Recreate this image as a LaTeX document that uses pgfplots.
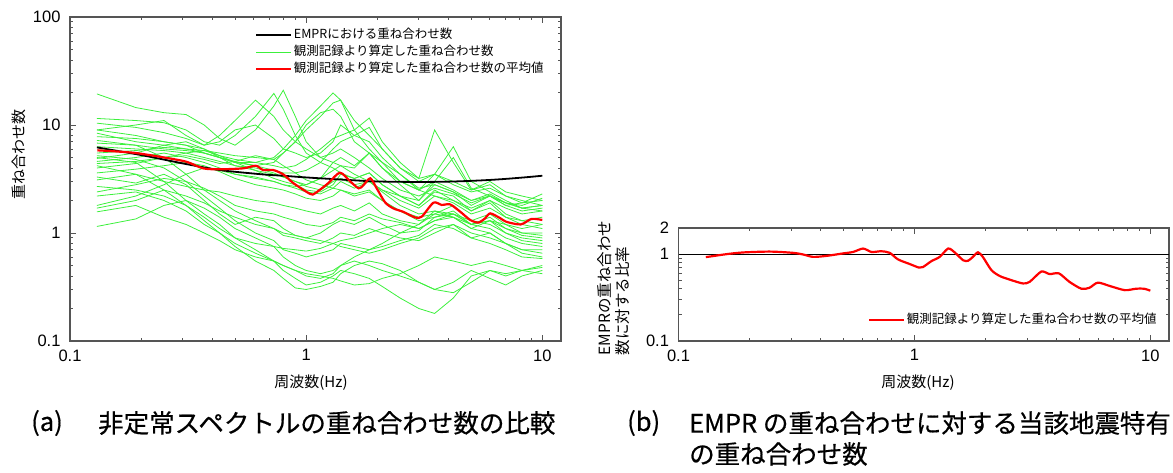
\documentclass[border=0pt]{standalone}
\usepackage{pgfplots}
\pgfplotsset{compat=1.18}
\usepackage{fontspec}
\setmainfont{Noto Sans CJK JP}
\newfontfamily\arial{Liberation Sans}
\newfontfamily\capfont[FakeBold=0.5]{Noto Sans CJK JP}
\definecolor{grn}{RGB}{60,240,60}
\definecolor{axgray}{RGB}{85,85,85}
\definecolor{myred}{RGB}{255,0,0}
\begin{document}
\begin{tikzpicture}
\useasboundingbox (0,0) rectangle (1173pt,472pt);
\begin{axis}[
  scale only axis, xmode=log, ymode=log,
  xmin=0.1, xmax=12,
  axis line style={draw=axgray, line width=1.2pt},
  tick style={draw=axgray, line width=0.9pt},
  major tick length=6pt, minor tick length=3pt,
  tick align=inside,
  xtick={0.1,1,10}, xticklabels={0.1,1,10},
  minor xtick={0.2,0.3,0.4,0.5,0.6,0.7,0.8,0.9,2,3,4,5,6,7,8,9},
  tick label style={font=\arial\fontsize{16.5}{18}\selectfont},
  xticklabel style={yshift=-5pt},
  yticklabel style={xshift=-6pt},
  legend image code/.code={\draw[#1] (0pt,0pt) -- (35pt,0pt);},
  legend cell align=left,
  at={(70pt,131pt)}, anchor=south west, width=491pt, height=324pt,
  ymin=0.1, ymax=100,
  ytick={0.1,1,10,100}, yticklabels={0.1,1,10,100},
  minor ytick={0.2,0.3,0.4,0.5,0.6,0.7,0.8,0.9,2,3,4,5,6,7,8,9,20,30,40,50,60,70,80,90},
  legend style={at={(axis description cs:0.3768,0.970)}, anchor=north west, draw=none, fill=none, inner sep=0pt, row sep=0pt,
    nodes={inner xsep=1.5pt, inner ysep=1pt, text height=11pt, text depth=3.7pt, font=\fontsize{12.5}{15}\selectfont}},
]
\addlegendimage{black, line width=1.8pt}
\addlegendentry{EMPRにおける重ね合わせ数}
\addlegendimage{grn, line width=0.9pt}
\addlegendentry{観測記録より算定した重ね合わせ数}
\addlegendimage{myred, line width=2.2pt}
\addlegendentry{観測記録より算定した重ね合わせ数の平均値}
\addplot[grn, line width=0.8pt, forget plot] coordinates {(0.13,19.4)(0.19,14.5)(0.25,13)(0.31,12.5)(0.37,10)(0.43,7.5)(0.5,6.5)(0.61,9)(0.73,15)(0.8,21)(0.9,12)(1.0,7)(1.15,5)(1.3,4.5)(1.4,4.2)(1.6,3.5)(1.85,3.0)(2.1,2.5)(2.5,2.0)(3,1.7)(3.5,2.2)(4.2,1.9)(5,1.5)(6,1.7)(7,1.4)(8.2,1.3)(10,1.4)};
\addplot[grn, line width=0.8pt, forget plot] coordinates {(0.13,11.5)(0.19,11)(0.25,10.5)(0.31,9)(0.37,7)(0.43,6.5)(0.5,8)(0.61,12)(0.73,19.6)(0.8,14)(0.9,8)(1.0,5.5)(1.15,4.5)(1.3,4)(1.4,3.6)(1.6,3.2)(1.85,3.6)(2.1,2.8)(2.5,2.2)(3,1.8)(3.5,2.5)(4.2,2.0)(5,1.6)(6,2.0)(7,1.7)(8.2,1.5)(10,1.6)};
\addplot[grn, line width=0.8pt, forget plot] coordinates {(0.13,10.4)(0.19,9.5)(0.25,8.5)(0.31,7.5)(0.37,6.5)(0.43,8)(0.5,11)(0.61,17)(0.73,12)(0.8,9)(0.9,7)(1.0,6)(1.15,5)(1.3,5.5)(1.4,6)(1.6,5)(1.85,4)(2.1,3.2)(2.5,2.5)(3,2.2)(3.5,2.6)(4.2,2.3)(5,1.9)(6,2.2)(7,1.8)(8.2,1.9)(10,2.3)};
\addplot[grn, line width=0.8pt, forget plot] coordinates {(0.13,9.0)(0.19,8)(0.25,7)(0.31,6.5)(0.37,5.5)(0.43,5)(0.5,4.5)(0.61,4.5)(0.73,5)(0.8,6)(0.9,8)(1.0,11)(1.15,15)(1.3,19.8)(1.4,17)(1.6,9)(1.85,6)(2.1,4.5)(2.5,3)(3,2.5)(3.5,3.0)(4.2,2.5)(5,2)(6,2.2)(7,1.9)(8.2,1.8)(10,2.1)};
\addplot[grn, line width=0.8pt, forget plot] coordinates {(0.13,8.4)(0.19,7)(0.25,6.5)(0.31,6)(0.37,5.8)(0.43,5.5)(0.5,5.2)(0.61,5.0)(0.73,4.8)(0.8,5.5)(0.9,7)(1.0,9)(1.15,12)(1.3,16)(1.4,17)(1.6,11)(1.85,8)(2.1,6)(2.5,4)(3,3)(3.5,3.5)(4.2,2.8)(5,2.4)(6,2.6)(7,2.2)(8.2,2.0)(10,1.8)};
\addplot[grn, line width=0.8pt, forget plot] coordinates {(0.13,7.8)(0.19,7.5)(0.25,7)(0.31,6.5)(0.37,6)(0.43,5.2)(0.5,4.8)(0.61,4.5)(0.73,4.2)(0.8,4.0)(0.9,4.2)(1.0,4.8)(1.15,6)(1.3,7.5)(1.4,8)(1.6,9)(1.85,11.6)(2.1,7)(2.5,4.5)(3,3.2)(3.5,3.5)(4.2,3)(5,2.5)(6,3.0)(7,2.4)(8.2,2.2)(10,2.0)};
\addplot[grn, line width=0.8pt, forget plot] coordinates {(0.13,6.8)(0.19,6.5)(0.25,6)(0.31,5.8)(0.37,5.5)(0.43,5)(0.5,4.6)(0.61,4.2)(0.73,3.8)(0.8,3.6)(0.9,3.6)(1.0,3.8)(1.15,4.5)(1.3,6)(1.4,7)(1.6,8)(1.85,9.5)(2.1,6)(2.5,4)(3,3.2)(3.5,9.0)(4.2,4.5)(5,2.5)(6,2.8)(7,2.2)(8.2,1.9)(10,2.0)};
\addplot[grn, line width=0.8pt, forget plot] coordinates {(0.13,6.3)(0.19,6)(0.25,5.8)(0.31,5.5)(0.37,5)(0.43,4.6)(0.5,4.2)(0.61,4.0)(0.73,3.6)(0.8,3.3)(0.9,3.0)(1.0,2.8)(1.15,3.2)(1.3,4.5)(1.4,5)(1.6,4.2)(1.85,5.5)(2.1,4)(2.5,3)(3,2.5)(3.5,3.5)(4.2,6.3)(5,3)(6,2.4)(7,2.0)(8.2,1.7)(10,1.6)};
\addplot[grn, line width=0.8pt, forget plot] coordinates {(0.13,5.5)(0.19,5.8)(0.25,6.2)(0.31,6)(0.37,5.5)(0.43,5)(0.5,4.5)(0.61,4.2)(0.73,4.5)(0.8,5.5)(0.9,7)(1.0,10)(1.15,13)(1.3,14)(1.4,12)(1.6,7)(1.85,5.5)(2.1,4.5)(2.5,3.5)(3,2.5)(3.5,2.2)(4.2,2.0)(5,1.7)(6,2.0)(7,1.5)(8.2,1.3)(10,1.2)};
\addplot[grn, line width=0.8pt, forget plot] coordinates {(0.13,4.9)(0.19,5.5)(0.25,6.5)(0.31,7)(0.37,6)(0.43,5)(0.5,4.2)(0.61,3.8)(0.73,3.2)(0.8,3)(0.9,2.8)(1.0,2.5)(1.15,2.4)(1.3,2.8)(1.4,3.5)(1.6,3.2)(1.85,3.6)(2.1,2.8)(2.5,2.2)(3,1.8)(3.5,2.4)(4.2,2.2)(5,1.6)(6,1.9)(7,1.4)(8.2,1.2)(10,1.1)};
\addplot[grn, line width=0.8pt, forget plot] coordinates {(0.13,4.4)(0.19,4.6)(0.25,5)(0.31,5.5)(0.37,5.8)(0.43,5.2)(0.5,4.5)(0.61,3.8)(0.73,3.5)(0.8,3.3)(0.9,3.0)(1.0,2.7)(1.15,2.5)(1.3,3)(1.4,3.2)(1.6,2.8)(1.85,3.0)(2.1,2.4)(2.5,1.8)(3,1.5)(3.5,1.6)(4.2,1.5)(5,1.3)(6,1.5)(7,1.2)(8.2,1.0)(10,0.95)};
\addplot[grn, line width=0.8pt, forget plot] coordinates {(0.13,4.0)(0.19,4.4)(0.25,5)(0.31,5.2)(0.37,4.8)(0.43,4.4)(0.5,4.6)(0.61,5.2)(0.73,4.8)(0.8,4.2)(0.9,3.6)(1.0,3.1)(1.15,2.8)(1.3,2.6)(1.4,2.5)(1.6,2.3)(1.85,2.5)(2.1,2.0)(2.5,1.6)(3,1.4)(3.5,1.5)(4.2,1.4)(5,1.2)(6,1.4)(7,1.1)(8.2,0.95)(10,0.9)};
\addplot[grn, line width=0.8pt, forget plot] coordinates {(0.13,3.6)(0.19,3.9)(0.25,4.2)(0.31,4.5)(0.37,4.2)(0.43,3.7)(0.5,3.2)(0.61,2.8)(0.73,2.6)(0.8,2.5)(0.9,2.3)(1.0,2.1)(1.15,2.0)(1.3,2.2)(1.4,2.5)(1.6,2.2)(1.85,2.4)(2.1,2.0)(2.5,1.6)(3,1.3)(3.5,1.4)(4.2,1.5)(5,1.2)(6,1.3)(7,1.0)(8.2,0.9)(10,0.85)};
\addplot[grn, line width=0.8pt, forget plot] coordinates {(0.13,3.1)(0.19,3.5)(0.25,3.0)(0.31,2.7)(0.37,2.5)(0.43,2.4)(0.5,2.2)(0.61,2.0)(0.73,1.9)(0.8,1.8)(0.9,1.7)(1.0,1.6)(1.15,1.5)(1.3,1.7)(1.4,1.8)(1.6,1.6)(1.85,1.9)(2.1,1.5)(2.5,1.3)(3,1.2)(3.5,1.5)(4.2,1.8)(5,1.3)(6,1.2)(7,1.0)(8.2,0.85)(10,0.8)};
\addplot[grn, line width=0.8pt, forget plot] coordinates {(0.13,2.7)(0.19,2.5)(0.25,2.2)(0.31,1.8)(0.37,1.4)(0.43,1.1)(0.5,0.9)(0.61,0.8)(0.73,0.75)(0.8,0.72)(0.9,0.7)(1.0,0.68)(1.15,0.72)(1.3,0.8)(1.4,0.85)(1.6,0.9)(1.85,1.0)(2.1,1.1)(2.5,1.2)(3,1.1)(3.5,1.3)(4.2,1.5)(5,1.2)(6,1.1)(7,0.9)(8.2,0.8)(10,0.75)};
\addplot[grn, line width=0.8pt, forget plot] coordinates {(0.13,2.2)(0.19,2.4)(0.25,2.0)(0.31,1.6)(0.37,1.2)(0.43,1.0)(0.5,0.8)(0.61,0.65)(0.73,0.55)(0.8,0.5)(0.9,0.45)(1.0,0.4)(1.15,0.38)(1.3,0.42)(1.4,0.5)(1.6,0.6)(1.85,0.7)(2.1,0.8)(2.5,1.0)(3,1.2)(3.5,1.6)(4.2,1.4)(5,1.1)(6,1.0)(7,0.8)(8.2,0.7)(10,0.65)};
\addplot[grn, line width=0.8pt, forget plot] coordinates {(0.13,1.7)(0.19,2.0)(0.25,2.5)(0.31,2.2)(0.37,1.9)(0.43,1.6)(0.5,1.4)(0.61,1.2)(0.73,1.1)(0.8,1.0)(0.9,0.95)(1.0,0.9)(1.15,0.85)(1.3,0.8)(1.4,0.75)(1.6,0.7)(1.85,0.65)(2.1,0.7)(2.5,0.8)(3,0.9)(3.5,1.1)(4.2,1.2)(5,1.0)(6,0.9)(7,0.8)(8.2,0.65)(10,0.6)};
\addplot[grn, line width=0.8pt, forget plot] coordinates {(0.13,1.57)(0.19,1.8)(0.25,1.4)(0.31,1.2)(0.37,1.0)(0.43,0.85)(0.5,0.7)(0.61,0.6)(0.73,0.55)(0.8,0.5)(0.9,0.45)(1.0,0.42)(1.15,0.4)(1.3,0.38)(1.4,0.36)(1.6,0.33)(1.85,0.34)(2.1,0.38)(2.5,0.42)(3,0.5)(3.5,0.6)(4.2,0.55)(5,0.5)(6,0.55)(7,0.5)(8.2,0.45)(10,0.42)};
\addplot[grn, line width=0.8pt, forget plot] coordinates {(0.13,1.15)(0.19,1.35)(0.25,1.8)(0.31,2.0)(0.37,1.7)(0.43,1.4)(0.5,1.1)(0.61,0.9)(0.73,0.75)(0.8,0.6)(0.9,0.5)(1.0,0.45)(1.15,0.42)(1.3,0.45)(1.4,0.5)(1.6,0.55)(1.85,0.5)(2.1,0.45)(2.5,0.4)(3,0.35)(3.5,0.3)(4.2,0.28)(5,0.35)(6,0.45)(7,0.4)(8.2,0.45)(10,0.48)};
\addplot[grn, line width=0.8pt, forget plot] coordinates {(0.13,5.0)(0.19,4.5)(0.25,3.0)(0.31,2.0)(0.37,1.5)(0.43,1.2)(0.5,0.9)(0.61,0.7)(0.73,0.55)(0.8,0.45)(0.9,0.38)(1.0,0.33)(1.15,0.35)(1.3,0.4)(1.4,0.45)(1.6,0.42)(1.85,0.38)(2.1,0.32)(2.5,0.25)(3,0.2)(3.5,0.18)(4.2,0.25)(5,0.4)(6,0.45)(7,0.42)(8.2,0.45)(10,0.5)};
\addplot[grn, line width=0.8pt, forget plot] coordinates {(0.13,4.2)(0.19,3.5)(0.25,2.5)(0.31,1.8)(0.37,1.3)(0.43,1.0)(0.5,0.75)(0.61,0.55)(0.73,0.45)(0.8,0.38)(0.9,0.31)(1.0,0.3)(1.15,0.32)(1.3,0.35)(1.4,0.42)(1.6,0.5)(1.85,0.55)(2.1,0.52)(2.5,0.45)(3,0.35)(3.5,0.3)(4.2,0.35)(5,0.45)(6,0.38)(7,0.33)(8.2,0.4)(10,0.45)};
\addplot[grn, line width=0.8pt, forget plot] coordinates {(0.13,7.2)(0.19,6.5)(0.25,5)(0.31,3.5)(0.37,2.5)(0.43,2.0)(0.5,1.6)(0.61,1.3)(0.73,1.1)(0.8,0.95)(0.9,0.9)(1.0,0.85)(1.15,0.8)(1.3,0.9)(1.4,1.0)(1.6,0.95)(1.85,1.1)(2.1,1.0)(2.5,0.9)(3,0.85)(3.5,1.0)(4.2,1.2)(5,0.9)(6,0.8)(7,0.7)(8.2,0.6)(10,0.58)};
\addplot[grn, line width=0.8pt, forget plot] coordinates {(0.13,5.2)(0.19,4.8)(0.25,4.0)(0.31,3.0)(0.37,2.2)(0.43,1.7)(0.5,1.3)(0.61,1.0)(0.73,0.85)(0.8,0.7)(0.9,0.65)(1.0,0.6)(1.15,0.65)(1.3,0.7)(1.4,0.8)(1.6,0.75)(1.85,0.7)(2.1,0.75)(2.5,0.85)(3,0.95)(3.5,1.2)(4.2,1.1)(5,0.9)(6,1.0)(7,0.8)(8.2,0.7)(10,0.7)};
\addplot[grn, line width=0.8pt, forget plot] coordinates {(0.13,3.3)(0.19,2.9)(0.25,3.5)(0.31,2.8)(0.37,2.0)(0.43,1.5)(0.5,1.2)(0.61,1.4)(0.73,1.3)(0.8,1.1)(0.9,0.95)(1.0,0.9)(1.15,1.0)(1.3,1.2)(1.4,1.3)(1.6,1.2)(1.85,1.4)(2.1,1.2)(2.5,1.0)(3,1.05)(3.5,1.4)(4.2,1.6)(5,1.2)(6,1.3)(7,1.1)(8.2,1.0)(10,1.0)};
\addplot[grn, line width=0.8pt, forget plot] coordinates {(0.13,2.4)(0.19,2.8)(0.25,3.2)(0.31,3.0)(0.37,2.6)(0.43,2.2)(0.5,1.8)(0.61,1.6)(0.73,1.5)(0.8,1.4)(0.9,1.3)(1.0,1.2)(1.15,1.15)(1.3,1.25)(1.4,1.4)(1.6,1.3)(1.85,1.5)(2.1,1.35)(2.5,1.25)(3,1.1)(3.5,1.3)(4.2,1.4)(5,1.1)(6,1.3)(7,1.2)(8.2,1.1)(10,1.2)};
\addplot[grn, line width=0.8pt, forget plot] coordinates {(0.13,1.8)(0.19,2.2)(0.25,2.8)(0.31,3.5)(0.37,4.0)(0.43,3.8)(0.5,3.5)(0.61,3.3)(0.73,3.0)(0.8,2.8)(0.9,2.7)(1.0,2.8)(1.15,3.2)(1.3,3.8)(1.4,4.2)(1.6,4.0)(1.85,5.5)(2.1,4.0)(2.5,2.8)(3,2.0)(3.5,2.8)(4.2,2.4)(5,1.8)(6,2.2)(7,1.8)(8.2,1.6)(10,1.7)};
\addplot[grn, line width=0.8pt, forget plot] coordinates {(0.13,4.6)(0.19,5)(0.25,5.5)(0.31,5)(0.37,4.5)(0.43,4.0)(0.5,3.5)(0.61,3.2)(0.73,3.0)(0.8,2.8)(0.9,2.6)(1.0,2.4)(1.15,2.3)(1.3,2.6)(1.4,3.0)(1.6,2.6)(1.85,3.0)(2.1,2.5)(2.5,2.2)(3,2.0)(3.5,3.0)(4.2,5.0)(5,2.6)(6,2.2)(7,1.9)(8.2,1.7)(10,1.8)};
\addplot[grn, line width=0.8pt, forget plot] coordinates {(0.13,9.0)(0.19,10)(0.25,11)(0.31,8)(0.37,6.5)(0.43,7)(0.5,9)(0.61,10)(0.73,7.5)(0.8,6)(0.9,5.5)(1.0,5)(1.15,5.5)(1.3,7)(1.4,10)(1.6,8)(1.85,7)(2.1,5)(2.5,3.5)(3,2.6)(3.5,2.8)(4.2,2.4)(5,2.0)(6,2.3)(7,1.9)(8.2,1.7)(10,1.8)};
\addplot[black, line width=1.8pt, smooth, forget plot] coordinates {(0.13,6.2)(0.2,5.27)(0.31,4.35)(0.43,3.83)(0.6,3.55)(0.7,3.45)(0.8,3.39)(1,3.27)(1.5,3.1)(2,3.0)(3,2.97)(4,2.99)(5,3.04)(6,3.1)(7,3.17)(8.5,3.28)(10,3.39)};
\addplot[myred, line width=2.2pt, smooth, tension=0.45, forget plot] coordinates {(0.1305,5.83)(0.185,5.54)(0.248,5.02)(0.311,4.57)(0.366,3.97)(0.431,3.89)(0.541,3.97)(0.612,4.2)(0.657,3.83)(0.725,3.83)(0.8,3.49)(0.884,2.89)(1.04,2.3)(1.09,2.33)(1.24,2.89)(1.39,3.62)(1.54,2.99)(1.67,2.59)(1.75,2.78)(1.87,3.21)(1.99,2.59)(2.16,1.92)(2.34,1.69)(2.58,1.57)(2.9,1.39)(3.09,1.42)(3.46,1.91)(3.75,1.82)(4.07,1.84)(4.5,1.57)(4.95,1.32)(5.37,1.25)(5.73,1.37)(6.02,1.52)(6.64,1.37)(7.04,1.27)(8.1,1.2)(9.0,1.35)(10,1.32)};
\end{axis}
\begin{axis}[
  scale only axis, xmode=log, ymode=log,
  xmin=0.1, xmax=12,
  axis line style={draw=axgray, line width=1.2pt},
  tick style={draw=axgray, line width=0.9pt},
  major tick length=6pt, minor tick length=3pt,
  tick align=inside,
  xtick={0.1,1,10}, xticklabels={0.1,1,10},
  minor xtick={0.2,0.3,0.4,0.5,0.6,0.7,0.8,0.9,2,3,4,5,6,7,8,9},
  tick label style={font=\arial\fontsize{16.5}{18}\selectfont},
  xticklabel style={yshift=-5pt},
  yticklabel style={xshift=-6pt},
  legend image code/.code={\draw[#1] (0pt,0pt) -- (35pt,0pt);},
  legend cell align=left,
  at={(678.5pt,131pt)}, anchor=south west, width=490.5pt, height=113pt,
  ymin=0.1, ymax=2,
  ytick={0.1,1,2}, yticklabels={0.1,1,2},
  minor ytick={0.2,0.3,0.4,0.5,0.6,0.7,0.8,0.9},
  legend style={at={(axis description cs:0.3863,0.2597)}, anchor=north west, draw=none, fill=none, inner sep=0pt, row sep=0pt,
    nodes={inner xsep=1.5pt, inner ysep=1pt, text height=11pt, text depth=3.7pt, font=\fontsize{12.5}{15}\selectfont}},
]
\addplot[black, line width=0.9pt, forget plot] coordinates {(0.1,1)(12,1)};
\addplot[myred, line width=2.2pt, smooth, tension=0.45] coordinates {(0.1306,0.924)(0.16,1.0)(0.188,1.046)(0.244,1.07)(0.306,1.035)(0.338,0.99)(0.372,0.93)(0.424,0.955)(0.499,1.02)(0.55,1.06)(0.606,1.16)(0.658,1.06)(0.725,1.08)(0.786,1.035)(0.852,0.87)(0.955,0.77)(1.046,0.70)(1.087,0.71)(1.18,0.83)(1.28,0.93)(1.39,1.16)(1.48,1.05)(1.61,0.85)(1.69,0.84)(1.77,0.93)(1.86,1.05)(1.95,0.93)(2.12,0.655)(2.3,0.56)(2.53,0.51)(2.88,0.46)(3.08,0.48)(3.45,0.63)(3.74,0.59)(4.1,0.60)(4.54,0.48)(5.1,0.40)(5.52,0.41)(5.99,0.47)(6.73,0.43)(7.8,0.385)(8.7,0.40)(9.4,0.40)(10,0.38)};
\addlegendentry{観測記録より算定した重ね合わせ数の平均値}
\end{axis}
\node[font=\fontsize{15}{17}\selectfont] at (311pt,89pt) {周波数(Hz)};
\node[font=\fontsize{15}{17}\selectfont] at (918pt,89pt) {周波数(Hz)};
\node[font=\fontsize{15}{17}\selectfont, rotate=90] at (18.6pt,317pt) {重ね合わせ数};
\node[font=\fontsize{15.5}{18}\selectfont, rotate=90, align=left, inner sep=0pt] at (614pt,184pt) {EMPRの重ね合わせ\\数に対する比率};
\node[font=\capfont\fontsize{25.5}{28}\selectfont, anchor=east, inner sep=0pt] at (63pt,49pt) {(a)};
\node[font=\capfont\fontsize{25.5}{28}\selectfont, anchor=west, inner sep=0pt] at (98pt,49pt) {非定常スペクトルの重ね合わせ数の比較};
\node[font=\capfont\fontsize{25.5}{28}\selectfont, anchor=west, inner sep=0pt] at (627pt,49pt) {(b)};
\node[font=\capfont\fontsize{25.5}{28}\selectfont, anchor=west, inner sep=0pt] at (689pt,49pt) {EMPR の重ね合わせに対する当該地震特有};
\node[font=\capfont\fontsize{25.5}{28}\selectfont, anchor=west, inner sep=0pt] at (689pt,18pt) {の重ね合わせ数};
\end{tikzpicture}
\end{document}
